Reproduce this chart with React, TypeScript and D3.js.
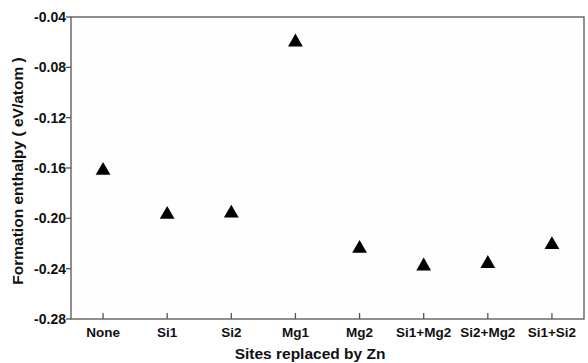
import React from "react";
import * as d3 from "d3";

const categories = ["None", "Si1", "Si2", "Mg1", "Mg2", "Si1+Mg2", "Si2+Mg2", "Si1+Si2"];
const enthalpy = [-0.162, -0.197, -0.196, -0.060, -0.224, -0.238, -0.236, -0.221];
const yTicks = [-0.04, -0.08, -0.12, -0.16, -0.2, -0.24, -0.28];

const W = 588, H = 363;
const L = 71, R = 584, T = 17, B = 319;

export default function App() {
  const x = d3.scalePoint<string>().domain(categories).range([L, R]).padding(0.5);
  const y = d3.scaleLinear().domain([-0.28, -0.04]).range([B, T]);
  const tri = d3.symbol().type(d3.symbolTriangle).size(95)();
  const font = "Liberation Sans, Arial, sans-serif";
  const axisColor = "#555";
  const fmt = (t: number) => d3.format(".2f")(t).replace("\u2212", "-");
  return (
    <svg width={W} height={H} style={{ position: "absolute", left: 0, top: 0, background: "#fff" }} fontFamily={font}>
      <rect x={L} y={T} width={R - L} height={B - T} fill="#fefefe" stroke={axisColor} strokeWidth={1.3} />
      {yTicks.map((t) => (
        <g key={t}>
          <line x1={L - 5} x2={L} y1={y(t)} y2={y(t)} stroke={axisColor} strokeWidth={1.3} />
          <text x={L - 5} y={y(t)} dy="0.35em" textAnchor="end" fontSize={14} fontWeight="bold" fill="#111">
            {fmt(t)}
          </text>
        </g>
      ))}
      {categories.map((c) => (
        <g key={c}>
          <line x1={x(c)} x2={x(c)} y1={B} y2={B - 6} stroke={axisColor} strokeWidth={1.3} />
          <text x={x(c)} y={B + 18} textAnchor="middle" fontSize={13.5} fontWeight="bold" fill="#111">
            {c}
          </text>
        </g>
      ))}
      {categories.map((c, i) => (
        <path key={c} d={tri ?? ""} transform={`translate(${x(c)},${y(enthalpy[i])})`} fill="#000" />
      ))}
      <text x={310} y={359} textAnchor="middle" fontSize={15.5} fontWeight="bold" fill="#111">
        Sites replaced by Zn
      </text>
      <text
        transform={`translate(23,${(T + B) / 2 + 3}) rotate(-90)`}
        textAnchor="middle"
        fontSize={15.5}
        fontWeight="bold"
        fill="#111"
      >
        Formation enthalpy ( eV/atom )
      </text>
    </svg>
  );
}
